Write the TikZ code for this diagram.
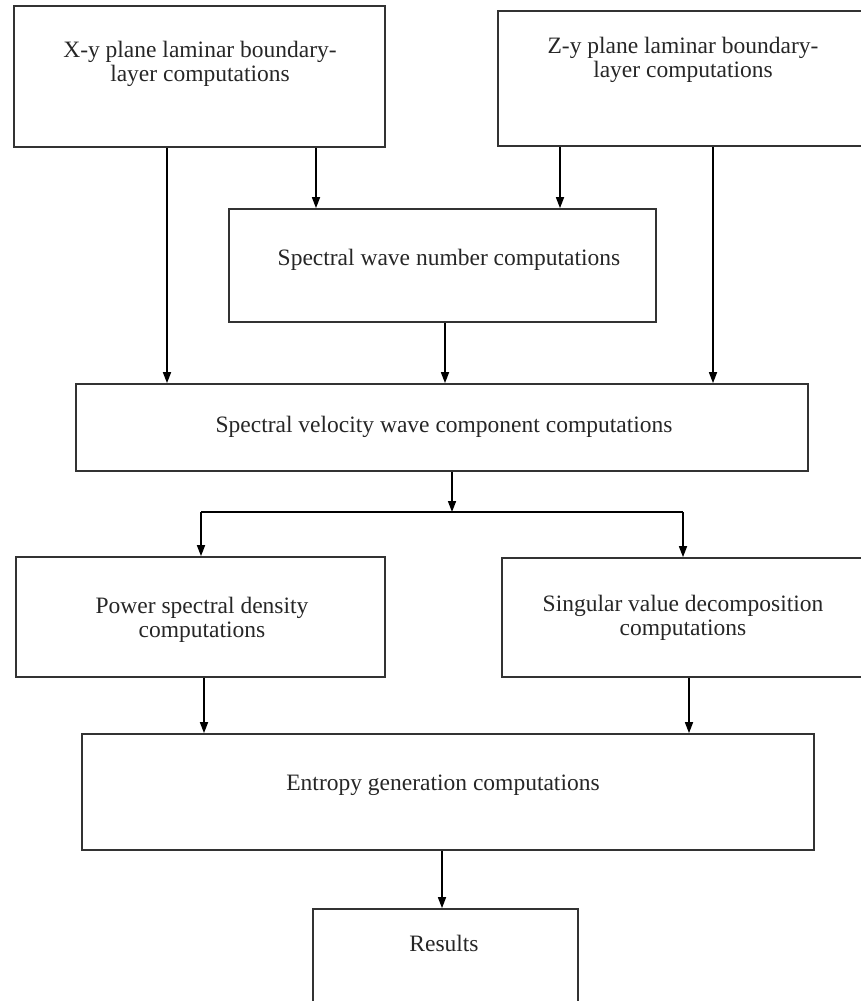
\documentclass[tikz,border=0pt]{standalone}
\usepackage{fontspec}
\setmainfont{Liberation Serif}
\usetikzlibrary{arrows.meta}
\begin{document}
\begin{tikzpicture}[x=1pt,y=-1pt,
  box/.style={draw=black!80, line width=1.7pt, rectangle, inner sep=0pt},
  lbl/.style={align=center, text=black!85, inner sep=0pt,
    font=\fontsize{23.5}{24.5}\selectfont},
  link/.style={draw=black, line width=1.6pt},
  arr/.style={link, -{Triangle[length=11pt,width=8pt]}}]
\useasboundingbox (0,0) rectangle (861,1001);

% boxes
\node[box, minimum width=371, minimum height=141] (b1) at (199.5,76.5) {};
\node[box, minimum width=368, minimum height=135] (b2) at (682,78.5) {};
\node[box, minimum width=427, minimum height=113] (b3) at (442.5,265.5) {};
\node[box, minimum width=732, minimum height=87]  (b4) at (442,427.5) {};
\node[box, minimum width=369, minimum height=120] (b5) at (200.5,617) {};
\node[box, minimum width=364, minimum height=119] (b6) at (684,617.5) {};
\node[box, minimum width=732, minimum height=116] (b7) at (448,792) {};
\node[box, minimum width=265, minimum height=96]  (b8) at (445.5,957) {};

% box texts
\node[lbl] (t1) at (200,64) {X-y plane laminar boundary-\\layer computations};
\node[lbl] (t2) at (683,60) {Z-y plane laminar boundary-\\layer computations};
\node[lbl] (t3) at (449,260) {Spectral wave number computations};
\node[lbl] (t4) at (444,427) {Spectral velocity wave component computations};
\node[lbl] (t5) at (202,620) {Power spectral density\\computations};
\node[lbl] (t6) at (683,618) {Singular value decomposition\\computations};
\node[lbl] (t7) at (443,785) {Entropy generation computations};
\node[lbl] (t8) at (444,943) {Results};

% connector columns
\coordinate (xa) at (167,0);
\coordinate (xb) at (316,0);
\coordinate (xc) at (560,0);
\coordinate (xd) at (713,0);
\coordinate (xe) at (445,0);
\coordinate (xf) at (204,0);
\coordinate (xg) at (689,0);
\coordinate (xh) at (442,0);

% split below the velocity box
\coordinate (jn) at (452,512);
\coordinate (jl) at (201,512);
\coordinate (jr) at (683,512);

\draw[arr] (b1.south -| xa) -- (b4.north -| xa);
\draw[arr] (b1.south -| xb) -- (b3.north -| xb);
\draw[arr] (b2.south -| xc) -- (b3.north -| xc);
\draw[arr] (b2.south -| xd) -- (b4.north -| xd);
\draw[arr] (b3.south -| xe) -- (b4.north -| xe);

\draw[arr] (b4.south -| jn) -- (jn);
\draw[link] (jl) -- (jr);
\draw[arr] (jl) -- (b5.north -| jl);
\draw[arr] (jr) -- (b6.north -| jr);

\draw[arr] (b5.south -| xf) -- (b7.north -| xf);
\draw[arr] (b6.south -| xg) -- (b7.north -| xg);
\draw[arr] (b7.south -| xh) -- (b8.north -| xh);
\end{tikzpicture}
\end{document}
